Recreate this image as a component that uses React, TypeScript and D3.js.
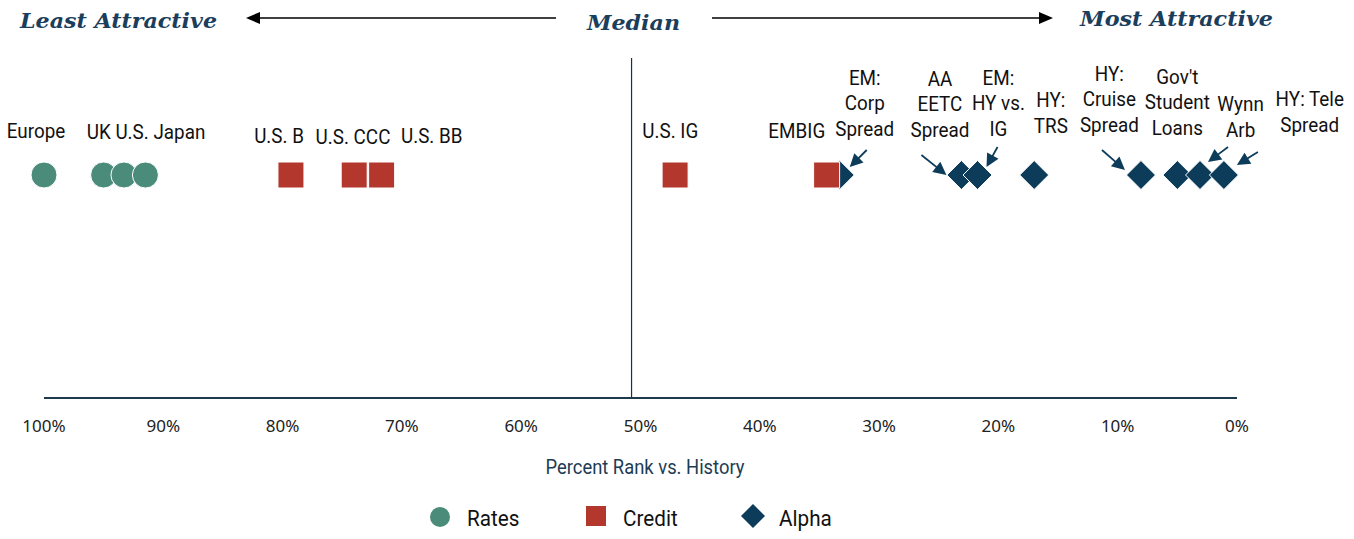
import React from "react";
import * as d3 from "d3";

// ---- data ----
const rateNames = ["Europe", "UK", "U.S.", "Japan"];
const rateValues = [100, 95, 93.3, 91.5];

const creditNames = ["U.S. B", "U.S. CCC", "U.S. BB", "U.S. IG", "EMBIG"];
const creditValues = [79.3, 74.0, 71.7, 47.1, 34.4];

const alphaNames = [
  "EM: Corp Spread",
  "AA EETC Spread",
  "EM: HY vs. IG",
  "HY: TRS",
  "HY: Cruise Spread",
  "Gov't Student Loans",
  "Wynn Arb",
  "HY: Tele Spread",
];
const alphaValues = [33.3, 23.1, 21.75, 17.0, 8.05, 5.0, 3.1, 1.1];

const tickValues = [100, 90, 80, 70, 60, 50, 40, 30, 20, 10, 0];
const medianValue = 50.75;

// label annotations: text lines, anchor (percent units), baseline of last line
const labelLines = [
  ["Europe"],
  ["UK U.S. Japan"],
  ["U.S. B"],
  ["U.S. CCC"],
  ["U.S. BB"],
  ["U.S. IG"],
  ["EMBIG"],
  ["EM:", "Corp", "Spread"],
  ["AA", "EETC", "Spread"],
  ["EM:", "HY vs.", "IG"],
  ["HY:", "TRS"],
  ["HY:", "Cruise", "Spread"],
  ["Gov't", "Student", "Loans"],
  ["Wynn", "Arb"],
  ["HY: Tele", "Spread"],
];
const labelAnchors = [100.67, 91.45, 80.3, 74.1, 67.5, 47.5, 36.9, 31.2, 24.9, 20.0, 15.6, 10.7, 5.0, -0.3, -6.1];
const labelBaselines = [138, 139, 143, 144, 143, 138, 138, 136, 137, 136, 133, 132, 135, 137, 132];

// pointer arrows for alpha labels (index into alpha series, offsets from marker)
const pointerIdx = [0, 1, 2, 4, 6, 7];
const pointerFrom = [[27, -25], [-40, -20], [20, -28], [-39, -25], [28, -28], [34, -23]];
const pointerTo = [[10, -8], [-15, 0], [9, -8], [-16, -5], [8, -13], [13, -10]];

const legendItems = ["Rates", "Credit", "Alpha"];

// ---- styles ----
const GREEN = "#4b8b79";
const RED = "#b3372d";
const NAVY = "#0d3c5b";
const TITLE = "#1a3e5c";

const W = 1354;
const H = 539;
const MY = 175;
const SX = 0.92;

export default function App() {
  const x = d3.scaleLinear().domain([100, 0]).range([44, 1237]);
  const diamond = (cx: number, cy: number, r: number) =>
    `M${cx},${cy - r}L${cx + r},${cy}L${cx},${cy + r}L${cx - r},${cy}Z`;

  const arrowHead = (x1: number, y1: number, x2: number, y2: number, len = 11, wid = 5) => {
    const a = Math.atan2(y2 - y1, x2 - x1);
    const bx = x2 - len * Math.cos(a);
    const by = y2 - len * Math.sin(a);
    const px = -Math.sin(a) * wid;
    const py = Math.cos(a) * wid;
    return `M${x2},${y2}L${bx + px},${by + py}L${bx - px},${by - py}Z`;
  };

  const font = "Roboto, 'Noto Sans', sans-serif";
  const serif = "'DejaVu Serif', serif";

  return (
    <svg
      width={W}
      height={H}
      style={{ position: "absolute", left: 0, top: 0, display: "block", background: "#fff" }}
    >
      {/* header */}
      <text x={20} y={28} fontFamily={serif} fontWeight="bold" fontStyle="italic"
        fontSize={21} fill={TITLE} textLength={197} lengthAdjust="spacingAndGlyphs">Least Attractive</text>
      <text x={587} y={30} fontFamily={serif} fontWeight="bold" fontStyle="italic"
        fontSize={21} fill={TITLE} textLength={93} lengthAdjust="spacingAndGlyphs">Median</text>
      <text x={1080} y={26} fontFamily={serif} fontWeight="bold" fontStyle="italic"
        fontSize={21} fill={TITLE} textLength={193} lengthAdjust="spacingAndGlyphs">Most Attractive</text>
      <line x1={556} y1={18} x2={255} y2={18} stroke="#000" strokeWidth={1.5} />
      <path d={arrowHead(556, 18, 246, 18, 14, 6)} fill="#000" />
      <line x1={712} y1={18} x2={1043} y2={18} stroke="#000" strokeWidth={1.5} />
      <path d={arrowHead(712, 18, 1053, 18, 14, 6)} fill="#000" />

      {/* median line */}
      <line x1={x(medianValue)} x2={x(medianValue)} y1={58} y2={397} stroke="#1b2f45" strokeWidth={1.2} />

      {/* axis */}
      <line x1={x(100)} x2={x(0)} y1={398} y2={398} stroke="#1d3a4d" strokeWidth={2} />
      {tickValues.map((t) => (
        <text key={t} x={x(t)} y={432} textAnchor="middle" fontFamily="'Noto Sans', sans-serif"
          fontSize={17} fill="#222">{t}%</text>
      ))}
      <g transform={`translate(645,474) scale(${SX},1)`}>
        <text x={0} y={0} textAnchor="middle" fontFamily={font} fontSize={20} fill="#1d3c55">
          Percent Rank vs. History
        </text>
      </g>

      {/* alpha diamonds */}
      {alphaValues.map((v, i) => (
        <path key={"a" + i} d={diamond(x(v), MY, 14.5)} fill={NAVY} stroke="#fff" strokeWidth={1} />
      ))}
      {/* credit squares */}
      {creditValues.map((v, i) => (
        <rect key={"c" + i} x={x(v) - 13} y={MY - 13} width={26} height={26} fill={RED} stroke="#fff" strokeWidth={1} />
      ))}
      {/* rates circles */}
      {rateValues.map((v, i) => (
        <circle key={"r" + i} cx={x(v)} cy={MY} r={13} fill={GREEN} stroke="#fff" strokeWidth={1} />
      ))}

      {/* pointer arrows */}
      {pointerIdx.map((ai, k) => {
        const cx = x(alphaValues[ai]);
        const x1 = cx + pointerFrom[k][0];
        const y1 = MY + pointerFrom[k][1];
        const x2 = cx + pointerTo[k][0];
        const y2 = MY + pointerTo[k][1];
        const a = Math.atan2(y2 - y1, x2 - x1);
        return (
          <g key={"p" + k}>
            <line x1={x1} y1={y1} x2={x2 - 9 * Math.cos(a)} y2={y2 - 9 * Math.sin(a)} stroke={NAVY} strokeWidth={1.8} />
            <path d={arrowHead(x1, y1, x2, y2, 13, 6.5)} fill={NAVY} />
          </g>
        );
      })}

      {/* labels */}
      {labelLines.map((lines, i) => (
        <g key={"l" + i} transform={`translate(${x(labelAnchors[i])},0) scale(${SX},1)`}>
          <text textAnchor="middle" fontFamily={font} fontSize={20.5} fill="#111">
            {lines.map((ln, j) => (
              <tspan key={j} x={0} y={labelBaselines[i] - (lines.length - 1 - j) * 25.5}>
                {ln}
              </tspan>
            ))}
          </text>
        </g>
      ))}

      {/* legend */}
      <circle cx={440} cy={517} r={10} fill={GREEN} />
      <rect x={586} y={506} width={20} height={20} fill={RED} />
      <path d={diamond(753, 516, 12)} fill={NAVY} />
      {legendItems.map((name, i) => (
        <g key={name} transform={`translate(${[467, 623, 779][i]},526) scale(${SX},1)`}>
          <text x={0} y={0} fontFamily={font} fontSize={22.5} fill="#111">{name}</text>
        </g>
      ))}
    </svg>
  );
}
